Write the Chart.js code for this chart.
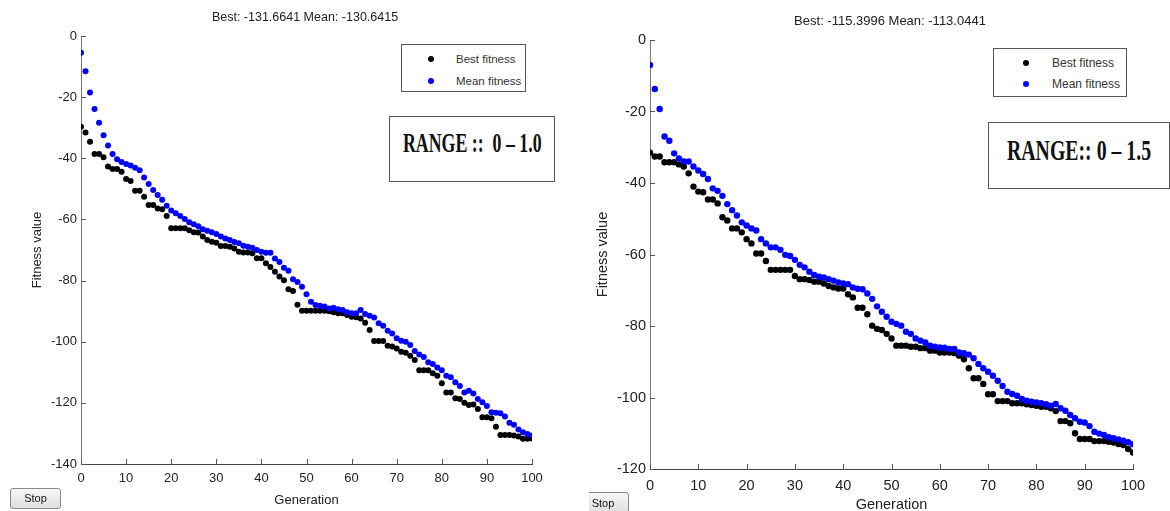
<!DOCTYPE html>
<html>
<head>
<meta charset="UTF-8">
<title>GA fitness plots</title>
<script src="https://cdn.jsdelivr.net/npm/chart.js"></script>
<style>
    body { margin: 0; width: 1170px; height: 511px; background: #fff; position: relative; overflow: hidden;
           font-family: "Liberation Sans", Arial, sans-serif; }
    .panel { position: absolute; top: 0; height: 511px; }
    .ttl { position: absolute; color: #222; white-space: nowrap; transform: translate(-50%, -50%); }
    .legend { position: absolute; border: 1px solid #555; background: #fff; color: #333; box-sizing: border-box; }
    .legend .dot { position: absolute; width: 6px; height: 6px; border-radius: 50%; transform: translate(-50%, -50%); }
    .legend .lbl { position: absolute; transform: translateY(-50%); white-space: nowrap; }
    .range { position: absolute; border: 1px solid #555; background: #fff; box-sizing: border-box; }
    .range span { position: absolute; font-family: "Liberation Serif", "DejaVu Serif", serif; font-weight: bold;
                  color: #111; white-space: pre; transform-origin: 0 50%; }
    .stop { position: absolute; box-sizing: border-box; border: 1px solid #8a8a8a; border-radius: 3px;
            background: linear-gradient(#f7f7f7, #dedede); font-size: 11px; color: #111; text-align: center; }
</style>
</head>
<body>

<div class="panel" style="left:0; width:570px;"><canvas id="chart-left" width="570" height="511"></canvas></div>
<div class="panel" style="left:570px; width:600px;"><canvas id="chart-right" width="600" height="511"></canvas></div>

<div class="ttl" style="left:305px; top:17px; font-size:12.5px;">Best: -131.6641 Mean: -130.6415</div>
<div class="ttl" style="left:890px; top:20px; font-size:13px;">Best: -115.3996 Mean: -113.0441</div>

<div class="legend" style="left:401px; top:44px; width:125px; height:48px; font-size:11.5px;">
    <div class="dot" style="left:29px; top:14px; background:#000;"></div><div class="lbl" style="left:54px; top:14px;">Best fitness</div>
    <div class="dot" style="left:29px; top:36px; background:#00f;"></div><div class="lbl" style="left:54px; top:36px;">Mean fitness</div>
</div>
<div class="legend" style="left:993px; top:48px; width:134px; height:49px; font-size:12px;">
    <div class="dot" style="left:32px; top:14px; background:#000;"></div><div class="lbl" style="left:58px; top:14px;">Best fitness</div>
    <div class="dot" style="left:32px; top:35px; background:#00f;"></div><div class="lbl" style="left:58px; top:35px;">Mean fitness</div>
</div>

<div class="range" style="left:389px; top:116px; width:166px; height:66px;">
    <span style="left:13px; top:11px; font-size:27px; transform:scaleX(0.66);">RANGE ::  0 – 1.0</span>
</div>
<div class="range" style="left:988px; top:122px; width:182px; height:67px;">
    <span style="left:18px; top:10px; font-size:30px; transform:scaleX(0.66);">RANGE:: 0 – 1.5</span>
</div>

<div class="stop" style="left:10px; top:488px; width:51px; height:21px; line-height:19px;">Stop</div>
<div style="position:absolute; left:589px; top:492px; width:41px; height:19px; overflow:hidden;">
    <div class="stop" style="left:-12px; top:0; width:52px; height:22px; line-height:20px;">Stop</div>
</div>

<script>
    // generations 0..100
    const generations = Array.from({length: 101}, (_, i) => i);

    // left run, range 0 - 1.0
    const leftBest = [
        -29.7, -31.6, -34.6, -38.6, -38.6, -39.7, -42.7, -43.5, -43.5, -44.4,
        -46.8, -47.4, -50.6, -50.6, -52.6, -55.3, -55.3, -56.4, -56.7, -58.9,
        -62.9, -62.9, -62.9, -62.9, -63.5, -64.2, -64.3, -65.6, -66.7, -67.3,
        -67.6, -68.7, -68.7, -68.9, -69.5, -70.6, -70.8, -70.8, -71.1, -72.7,
        -72.7, -74.3, -75.6, -77.1, -78.7, -79.9, -82.8, -83.4, -87.9, -89.9,
        -89.9, -89.9, -89.9, -89.9, -89.9, -90.0, -90.4, -90.7, -90.7, -91.3,
        -91.8, -92.0, -92.4, -93.8, -96.2, -99.8, -99.8, -99.8, -101.3, -101.6,
        -102.2, -103.3, -103.6, -104.6, -106.0, -109.3, -109.3, -109.3, -110.3, -111.1,
        -113.6, -116.6, -116.6, -118.5, -118.7, -120.0, -120.7, -120.5, -122.0, -124.7,
        -124.7, -125.0, -127.8, -130.5, -130.5, -130.5, -130.7, -131.0, -131.7, -131.7,
        -131.66
    ];
    const leftMean = [
        -5.5, -11.5, -18.5, -23.9, -28.4, -32.5, -35.8, -38.6, -40.3, -41.2,
        -41.9, -42.4, -43.1, -43.9, -46.3, -48.4, -50.4, -52.0, -53.6, -55.5,
        -57.1, -58.0, -58.9, -59.9, -60.9, -61.6, -62.2, -63.2, -63.7, -64.2,
        -64.8, -65.6, -66.2, -66.7, -67.4, -67.8, -68.6, -68.9, -69.3, -70.0,
        -70.6, -70.9, -70.9, -72.8, -73.9, -75.8, -76.8, -79.6, -80.5, -82.0,
        -84.5, -86.9, -88.0, -88.2, -88.5, -89.1, -88.9, -89.4, -89.6, -90.4,
        -90.7, -90.7, -89.6, -90.9, -91.5, -92.1, -94.0, -94.8, -96.4, -97.3,
        -98.9, -99.7, -100.0, -101.1, -103.0, -104.2, -105.0, -106.7, -107.3, -108.4,
        -109.3, -111.1, -111.6, -113.3, -114.5, -116.6, -116.0, -116.9, -118.7, -119.8,
        -121.0, -123.1, -123.2, -123.4, -124.5, -126.5, -127.2, -128.7, -129.6, -130.2,
        -130.64
    ];

    // right run, range 0 - 1.5
    const rightBest = [
        -31.5, -32.6, -32.6, -34.2, -34.2, -34.2, -34.8, -35.4, -37.3, -41.0,
        -42.4, -42.6, -44.6, -44.6, -45.7, -49.6, -50.5, -52.7, -52.7, -53.8,
        -55.7, -56.9, -59.7, -59.7, -61.8, -64.3, -64.3, -64.3, -64.3, -64.3,
        -66.0, -66.9, -66.9, -67.1, -67.6, -67.6, -68.1, -68.8, -69.2, -69.5,
        -69.5, -71.1, -72.0, -74.9, -74.9, -76.7, -79.9, -80.8, -81.1, -82.2,
        -83.5, -85.5, -85.5, -85.5, -85.8, -85.8, -86.2, -86.2, -86.9, -86.9,
        -87.4, -87.4, -87.4, -87.6, -88.3, -89.3, -91.8, -94.6, -94.6, -96.2,
        -99.1, -99.1, -101.0, -101.0, -101.0, -101.6, -101.6, -101.6, -101.9, -102.1,
        -102.3, -102.6, -102.6, -103.0, -103.8, -106.6, -106.6, -107.2, -110.0, -111.6,
        -111.6, -111.6, -112.2, -112.2, -112.2, -112.4, -112.6, -113.0, -113.3, -114.4,
        -115.4
    ];
    const rightMean = [
        -7.0, -13.7, -19.3, -27.0, -28.2, -31.7, -33.1, -34.0, -34.0, -35.4,
        -36.5, -37.5, -38.9, -41.5, -42.2, -43.6, -45.9, -47.6, -49.1, -51.0,
        -51.9, -52.7, -53.3, -55.7, -56.9, -58.0, -58.0, -58.7, -60.1, -60.4,
        -61.5, -62.9, -63.6, -64.8, -65.7, -66.2, -66.4, -66.9, -67.3, -67.8,
        -68.1, -68.3, -69.2, -69.6, -69.7, -70.9, -72.4, -74.5, -76.0, -77.4,
        -78.8, -79.4, -79.9, -81.6, -82.2, -83.5, -84.1, -84.6, -85.5, -85.8,
        -86.0, -86.1, -86.4, -86.4, -87.4, -87.6, -88.0, -89.0, -90.6, -91.8,
        -92.8, -93.9, -95.3, -96.8, -98.4, -99.0, -99.5, -100.4, -100.9, -101.2,
        -101.4, -101.6, -101.9, -102.3, -101.8, -103.0, -103.7, -104.9, -105.8, -106.8,
        -107.0, -108.0, -109.6, -110.1, -110.5, -111.1, -111.4, -111.7, -112.1, -112.5,
        -113.04
    ];

    // matlab style ticks pointing into the plot
    const inwardTicks = {
        id: 'inwardTicks',
        afterDatasetsDraw(chart) {
            const {ctx, chartArea, scales: {x, y}} = chart;
            ctx.save();
            ctx.strokeStyle = '#555';
            ctx.lineWidth = 1;
            ctx.beginPath();
            x.ticks.forEach(t => {
                const px = Math.round(x.getPixelForValue(t.value)) + 0.5;
                ctx.moveTo(px, chartArea.bottom);
                ctx.lineTo(px, chartArea.bottom - 5);
            });
            y.ticks.forEach(t => {
                const py = Math.round(y.getPixelForValue(t.value)) + 0.5;
                ctx.moveTo(chartArea.left, py);
                ctx.lineTo(chartArea.left + 5, py);
            });
            ctx.stroke();
            ctx.restore();
        }
    };

    function points(values) {
        return generations.map((g, i) => ({x: g, y: values[i]}));
    }

    function buildChart(id, best, mean, c) {
        const font = {family: '"Liberation Sans", Arial, sans-serif', size: c.fontSize};
        return new Chart(document.getElementById(id), {
            type: 'scatter',
            data: {
                datasets: [
                    {label: 'Mean fitness', data: points(mean), backgroundColor: '#0000ff', borderColor: '#0000ff',
                        pointRadius: c.radius, borderWidth: 0, order: 0},
                    {label: 'Best fitness', data: points(best), backgroundColor: '#000', borderColor: '#000',
                        pointRadius: c.radius, borderWidth: 0, order: 1}
                ]
            },
            options: {
                responsive: false,
                animation: false,
                events: [],
                layout: {padding: {left: 0, right: c.padRight, top: c.padTop, bottom: 0}},
                plugins: {legend: {display: false}, tooltip: {enabled: false}},
                scales: {
                    x: {
                        type: 'linear', min: 0, max: 100,
                        ticks: {stepSize: 10, padding: c.xTickPad, color: '#222', font: font, maxRotation: 0},
                        grid: {display: false, drawTicks: false, tickLength: 0},
                        border: {color: '#444'},
                        title: {display: true, text: 'Generation', color: '#222',
                            font: {family: font.family, size: c.fontSize, lineHeight: 1},
                            padding: {top: 0, bottom: c.xTitlePad}},
                        afterFit(s) { s.height = c.xHeight; }
                    },
                    y: {
                        min: c.yMin, max: 0,
                        ticks: {stepSize: 20, padding: 4, color: '#222', font: font},
                        grid: {display: false, drawTicks: false, tickLength: 0},
                        border: {color: '#777'},
                        title: {display: true, text: 'Fitness value', color: '#222',
                            font: {family: font.family, size: c.fontSize, lineHeight: 1},
                            padding: {top: c.yTitlePad, bottom: 0}},
                        afterFit(s) { s.width = c.yWidth; }
                    }
                }
            },
            plugins: [inwardTicks]
        });
    }

    buildChart('chart-left', leftBest, leftMean, {
        yMin: -140, fontSize: 13, radius: 3,
        padTop: 36, padRight: 38, yWidth: 81, xHeight: 47,
        xTickPad: 7, xTitlePad: 4.5, yTitlePad: 30.5
    });
    buildChart('chart-right', rightBest, rightMean, {
        yMin: -120, fontSize: 14.5, radius: 3.2,
        padTop: 40, padRight: 37, yWidth: 80, xHeight: 42,
        xTickPad: 8, xTitlePad: -1.5, yTitlePad: 26
    });
</script>
</body>
</html>
